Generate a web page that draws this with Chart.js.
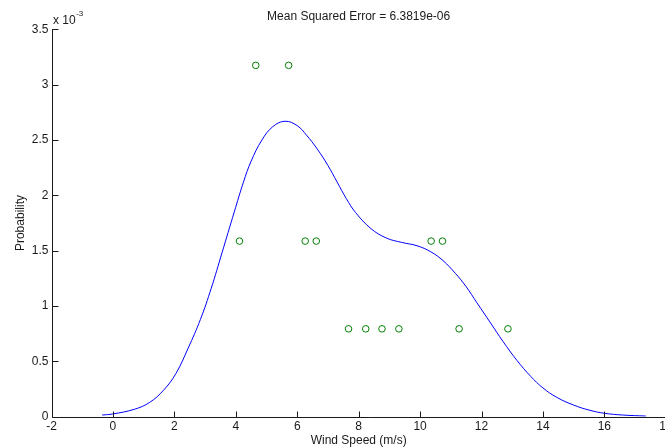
<!DOCTYPE html>
<html>
<head>
<meta charset="utf-8">
<script src="https://cdn.jsdelivr.net/npm/chart.js@4.4.1/dist/chart.umd.min.js"></script>
<style>
  html, body { margin: 0; padding: 0; overflow: hidden; background: #fff; }
  #wrap { width: 700px; height: 460px; position: relative; }
</style>
</head>
<body>
<div id="wrap"><canvas id="c"></canvas></div>
<script>
// ---- data ----
const titleText = 'Mean Squared Error = 6.3819e-06';
const xAxisLabel = 'Wind Speed (m/s)';
const yAxisLabel = 'Probability';
const xTicks = [-2, 0, 2, 4, 6, 8, 10, 12, 14, 16, 18];
const yTicks = [0, 0.0005, 0.001, 0.0015, 0.002, 0.0025, 0.003, 0.0035];

// fitted density curve (blue), values in units of 1e-3
const curveX = [-0.35, 0.0, 0.7, 1.2, 1.65, 2.05, 2.45, 2.85, 3.2, 3.55, 3.95, 4.25, 4.5, 4.85, 5.2, 5.6, 6.0, 6.3, 6.65, 7.0, 7.3, 7.6, 7.9, 8.4, 8.9, 9.4, 9.9, 10.35, 10.75, 11.15, 11.5, 11.85, 12.3, 12.7, 13.15, 13.6, 14.0, 14.45, 15.0, 15.5, 16.0, 16.6, 17.35];
const curveY = [0.015, 0.025, 0.067, 0.13, 0.24, 0.39, 0.62, 0.88, 1.16, 1.48, 1.85, 2.12, 2.31, 2.50, 2.62, 2.67, 2.63, 2.545, 2.42, 2.27, 2.12, 1.97, 1.845, 1.70, 1.615, 1.575, 1.545, 1.49, 1.41, 1.295, 1.175, 1.03, 0.845, 0.68, 0.51, 0.365, 0.26, 0.175, 0.105, 0.06, 0.031, 0.015, 0.006];

// observed probabilities (green circles)
const obsX = [4.12, 4.65, 5.72, 6.26, 6.62, 7.67, 8.23, 8.76, 9.31, 10.36, 10.73, 11.27, 12.86];
const obsY = [0.001587, 0.003175, 0.003175, 0.001587, 0.001587, 0.000794, 0.000794, 0.000794, 0.000794, 0.001587, 0.001587, 0.000794, 0.000794];

const FONT = "'Liberation Sans', Arial, sans-serif";
const TXT = '#1a1a1a';

const axesPlugin = {
  id: 'matlabAxes',
  afterDraw(chart) {
    const ctx = chart.ctx;
    const ca = chart.chartArea;
    const xs = chart.scales.x, ys = chart.scales.y;
    ctx.save();
    ctx.strokeStyle = TXT;
    ctx.lineWidth = 1;
    ctx.beginPath();
    const x0 = Math.round(ca.left) + 0.5;
    const y0 = Math.round(ca.bottom) + 0.5;
    ctx.moveTo(x0, Math.round(ca.top));
    ctx.lineTo(x0, y0);
    ctx.lineTo(ca.right + 20, y0);
    const tl = 6;
    xTicks.forEach(v => {
      const px = Math.round(xs.getPixelForValue(v)) + 0.5;
      ctx.moveTo(px, y0);
      ctx.lineTo(px, y0 - tl);
    });
    yTicks.forEach(v => {
      const py = Math.round(ys.getPixelForValue(v)) + 0.5;
      ctx.moveTo(x0, py);
      ctx.lineTo(x0 + tl, py);
    });
    ctx.stroke();
    // exponent label
    ctx.fillStyle = TXT;
    ctx.textBaseline = 'middle';
    ctx.textAlign = 'left';
    ctx.font = '12px ' + FONT;
    ctx.fillText('x 10', ca.left + 1.5, ca.top - 9);
    const w = ctx.measureText('x 10').width;
    ctx.font = '8px ' + FONT;
    ctx.fillText('-3', ca.left + 2 + w, ca.top - 16);
    ctx.restore();
  }
};

new Chart(document.getElementById('c'), {
  type: 'scatter',
  data: {
    datasets: [
      {
        type: 'line',
        data: curveX.map((x, i) => ({ x: x, y: curveY[i] * 1e-3 })),
        borderColor: '#0000ff',
        borderWidth: 1,
        pointRadius: 0,
        fill: false,
        tension: 0.4
      },
      {
        data: obsX.map((x, i) => ({ x: x, y: obsY[i] })),
        showLine: false,
        pointStyle: 'circle',
        pointRadius: 3.3,
        pointBorderWidth: 1,
        borderColor: '#008000',
        backgroundColor: 'rgba(0,0,0,0)',
        pointBackgroundColor: 'rgba(0,0,0,0)'
      }
    ]
  },
  options: {
    responsive: true,
    maintainAspectRatio: false,
    animation: false,
    layout: { padding: { left: 0, right: 34.2, top: 0, bottom: 0 } },
    plugins: {
      legend: { display: false },
      tooltip: { enabled: false },
      title: {
        display: true,
        text: titleText,
        fullSize: false,
        color: TXT,
        font: { family: FONT, size: 12, weight: 'normal' },
        padding: { top: 9, bottom: 6 }
      }
    },
    scales: {
      x: {
        type: 'linear',
        min: -2, max: 18,
        afterBuildTicks: s => { s.ticks = xTicks.map(v => ({ value: v })); },
        afterFit: s => { s.height = 43.3; },
        grid: { display: false, drawTicks: false },
        border: { display: false },
        ticks: { autoSkip: false, maxRotation: 0, padding: 3, color: TXT, font: { family: FONT, size: 12 } },
        title: { display: true, text: xAxisLabel, color: TXT, font: { family: FONT, size: 12 }, padding: { top: 0, bottom: 12 } }
      },
      y: {
        type: 'linear',
        min: 0, max: 0.0035,
        afterBuildTicks: s => { s.ticks = yTicks.map(v => ({ value: v })); },
        afterFit: s => { s.width = 51.5; },
        grid: { display: false, drawTicks: false },
        border: { display: false },
        ticks: {
          padding: 3, color: TXT, font: { family: FONT, size: 12 },
          callback: v => String(+(v * 1000).toFixed(1))
        },
        title: { display: true, text: yAxisLabel, color: TXT, font: { family: FONT, size: 12 }, padding: { top: 13, bottom: 0 } }
      }
    }
  },
  plugins: [axesPlugin]
});
</script>
</body>
</html>
